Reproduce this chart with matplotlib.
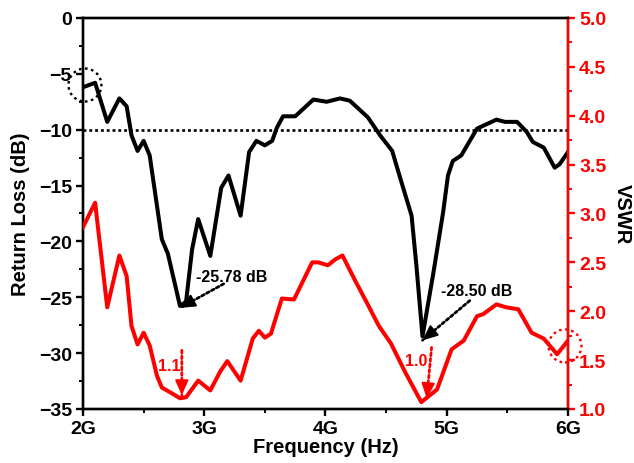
import matplotlib.pyplot as plt
from matplotlib.patches import Ellipse
from matplotlib.ticker import MultipleLocator, FixedLocator, FixedFormatter

plt.rcParams['font.family'] = ['Liberation Sans', 'DejaVu Sans']
plt.rcParams['font.weight'] = 'bold'

# return loss (dB)
freq_rl = [2.00, 2.10, 2.20, 2.30, 2.36, 2.40, 2.45, 2.50, 2.55, 2.65, 2.70, 2.80, 2.85,
           2.90, 2.95, 3.05, 3.14, 3.20, 3.30, 3.37, 3.43, 3.50, 3.56, 3.60, 3.65, 3.75,
           3.90, 4.01, 4.12, 4.20, 4.35, 4.45, 4.55, 4.61, 4.71, 4.75, 4.80, 4.89, 4.97,
           5.01, 5.05, 5.12, 5.19, 5.25, 5.33, 5.41, 5.48, 5.58, 5.66, 5.71, 5.80, 5.89,
           5.93, 6.00]
rl = [-6.2, -5.8, -9.3, -7.2, -7.9, -10.5, -11.9, -11.0, -12.3, -19.8, -21.1, -25.78, -25.4,
      -20.7, -18.0, -21.3, -15.2, -14.1, -17.7, -12.0, -11.0, -11.4, -11.0, -9.8, -8.8, -8.8,
      -7.3, -7.5, -7.2, -7.4, -8.9, -10.5, -11.9, -14.1, -17.7, -22.2, -28.5, -22.8, -17.4,
      -14.1, -12.8, -12.3, -11.0, -9.9, -9.5, -9.1, -9.3, -9.3, -10.2, -11.1, -11.6, -13.4,
      -13.1, -12.0]

# VSWR
freq_vswr = [2.00, 2.10, 2.20, 2.30, 2.36, 2.40, 2.45, 2.50, 2.55, 2.61, 2.65, 2.72, 2.80,
             2.85, 2.95, 3.05, 3.13, 3.19, 3.30, 3.40, 3.45, 3.50, 3.55, 3.64, 3.74, 3.89,
             3.94, 4.02, 4.08, 4.14, 4.25, 4.34, 4.44, 4.54, 4.66, 4.79, 4.92, 5.04, 5.14,
             5.25, 5.30, 5.41, 5.49, 5.59, 5.70, 5.80, 5.91, 6.00]
vswr = [2.86, 3.11, 2.04, 2.57, 2.36, 1.85, 1.66, 1.78, 1.65, 1.34, 1.22, 1.17, 1.11,
        1.12, 1.29, 1.19, 1.38, 1.49, 1.29, 1.72, 1.80, 1.73, 1.77, 2.13, 2.12, 2.50,
        2.50, 2.47, 2.53, 2.57, 2.30, 2.09, 1.85, 1.67, 1.37, 1.07, 1.20, 1.61, 1.70,
        1.95, 1.97, 2.07, 2.04, 2.02, 1.78, 1.72, 1.56, 1.70]

x_ticks = [2, 3, 4, 5, 6]
x_labels = ['2G', '3G', '4G', '5G', '6G']


def dotted_arrow(a, start, tip, color, frac):
    # dotted shaft plus a solid filled head
    a.annotate('', xy=tip, xytext=start,
               arrowprops=dict(arrowstyle='-', color=color, lw=2.0, ls=(0, (1, 1)),
                               shrinkA=0, shrinkB=0))
    back = (tip[0] + frac * (start[0] - tip[0]), tip[1] + frac * (start[1] - tip[1]))
    a.annotate('', xy=tip, xytext=back,
               arrowprops=dict(arrowstyle='-|>,head_length=0.9,head_width=0.4',
                               color=color, lw=1.5, shrinkA=0, shrinkB=0))


fig = plt.figure(figsize=(6.34, 4.64), dpi=100)
ax = fig.add_axes([0.1309, 0.1164, 0.7650, 0.8427])
ax2 = ax.twinx()

ax.plot(freq_rl, rl, color='black', lw=2.9, zorder=3)
ax.axhline(-10, color='black', lw=1.9, ls=(0, (1.1, 1.1)), zorder=2)
ax2.plot(freq_vswr, vswr, color='red', lw=2.9, zorder=3)

ax.set_xlim(2, 6)
ax.set_ylim(-35, 0)
ax2.set_ylim(1.0, 5.0)

ax.xaxis.set_major_locator(FixedLocator(x_ticks))
ax.xaxis.set_major_formatter(FixedFormatter(x_labels))
ax.xaxis.set_minor_locator(MultipleLocator(0.5))
ax.yaxis.set_major_locator(MultipleLocator(5))
ax.yaxis.set_minor_locator(MultipleLocator(2.5))
ax2.yaxis.set_major_locator(MultipleLocator(0.5))
ax2.yaxis.set_minor_locator(MultipleLocator(0.25))
ax2.yaxis.set_major_formatter(plt.FormatStrFormatter('%.1f'))

for a in (ax, ax2):
    for s in a.spines.values():
        s.set_linewidth(1.7)
ax2.spines['right'].set_color('red')
ax.tick_params(which='major', direction='out', length=5, width=1.7, labelsize=14, pad=3)
ax.tick_params(which='minor', direction='out', length=3, width=1.4)
ax2.tick_params(which='major', direction='out', length=5, width=1.7, labelsize=14, pad=3,
                color='red', labelcolor='red')
ax2.tick_params(which='minor', direction='out', length=3, width=1.4, color='red')

ax.set_xlabel('Frequency (Hz)', fontsize=14.5, fontweight='bold', labelpad=0)
ax.set_ylabel('Return Loss (dB)', fontsize=14.5, fontweight='bold', labelpad=6)
ax2.set_ylabel('VSWR', fontsize=14.5, fontweight='bold', rotation=270, labelpad=18)

# annotations for the two minima
ax.text(3.23, -23.1, '-25.78 dB', fontsize=11.5, fontweight='bold', ha='center', va='center')
dotted_arrow(ax, (3.16, -23.8), (2.80, -25.95), 'black', 0.28)
ax.text(5.25, -24.35, '-28.50 dB', fontsize=11.5, fontweight='bold', ha='center', va='center')
dotted_arrow(ax, (5.19, -25.3), (4.80, -28.85), 'black', 0.24)

ax2.text(2.71, 1.45, '1.1', color='red', fontsize=11.5, fontweight='bold',
         ha='center', va='center')
dotted_arrow(ax2, (2.815, 1.60), (2.815, 1.14), 'red', 0.3)
ax2.text(4.745, 1.50, '1.0', color='red', fontsize=11.5, fontweight='bold',
         ha='center', va='center')
dotted_arrow(ax2, (4.875, 1.63), (4.835, 1.11), 'red', 0.27)

# dotted circles
ax.add_patch(Ellipse((2.016, -6.0), 0.272, 2.95, fill=False, ec='black', lw=1.7,
                     ls=(0, (1.1, 1.5)), clip_on=False, zorder=4))
ax2.add_patch(Ellipse((5.975, 1.645), 0.272, 0.338, fill=False, ec='red', lw=1.7,
                      ls=(0, (1.1, 1.5)), clip_on=False, zorder=4))

fig.savefig('out.png', dpi=100)
